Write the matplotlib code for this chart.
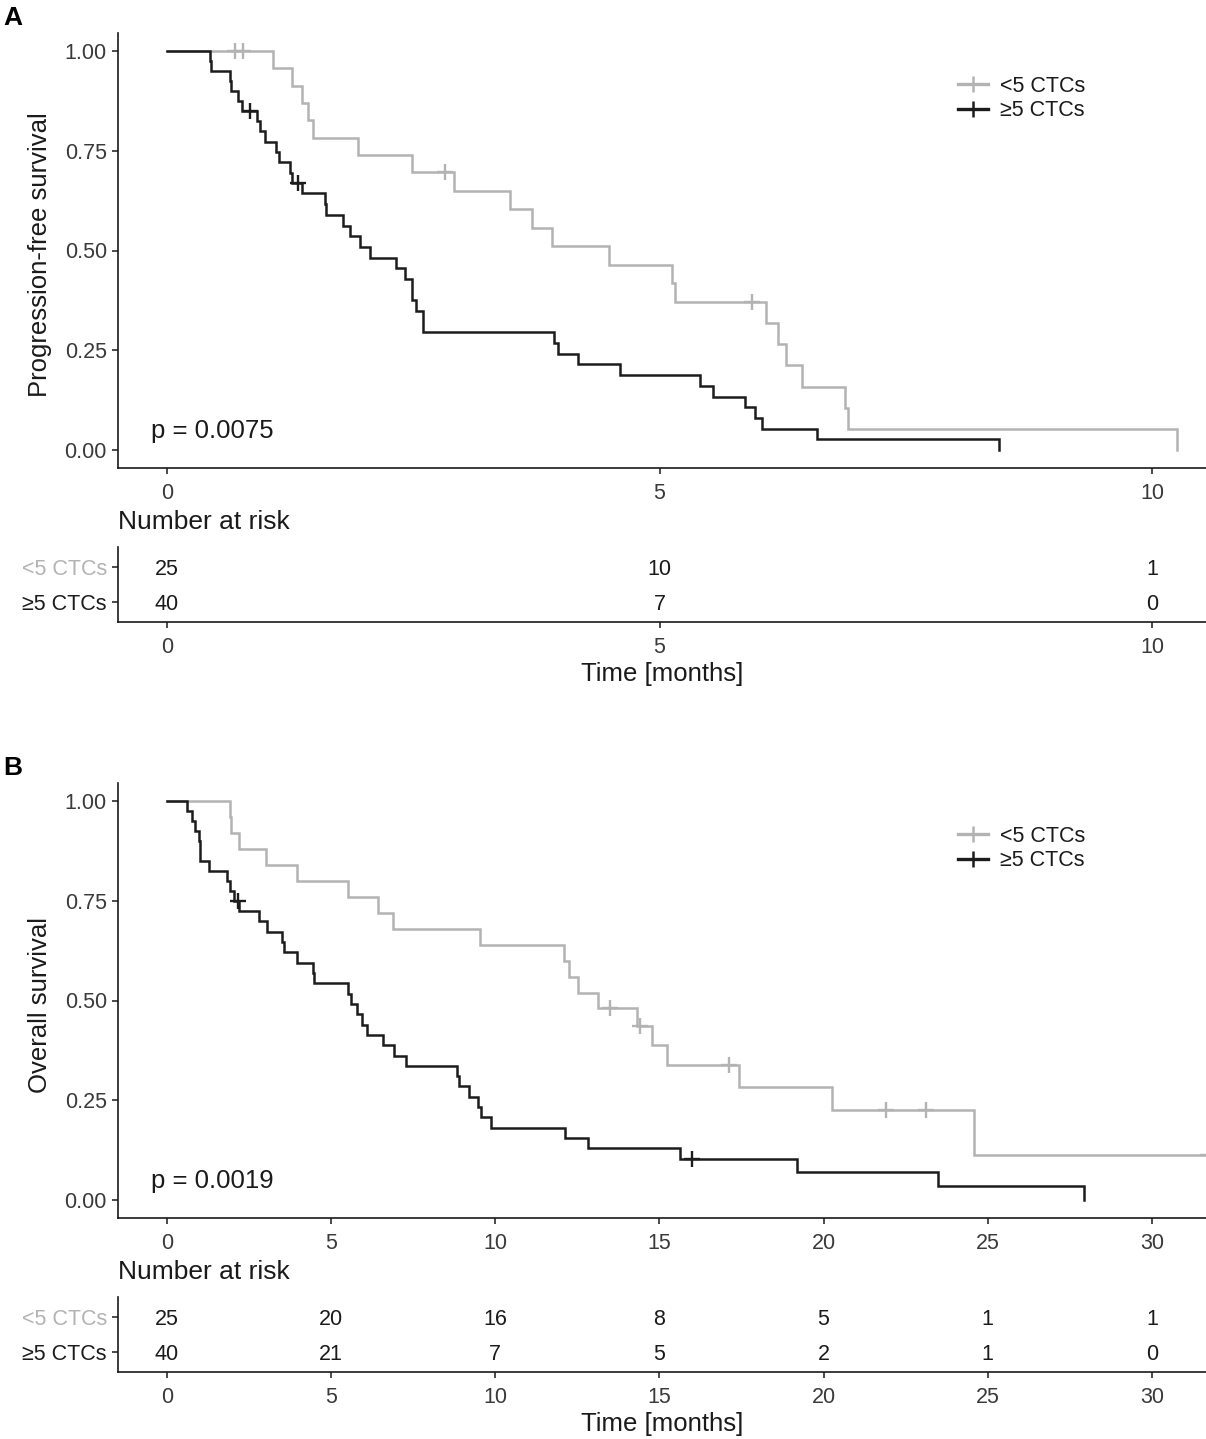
import numpy as np
import matplotlib
matplotlib.use('Agg')
import matplotlib.pyplot as plt
from matplotlib.lines import Line2D

plt.rcParams['font.family'] = ['Liberation Sans', 'DejaVu Sans']

W, H = 1206, 1439

# ---------------- data ----------------
groups = ['<5 CTCs', '\u22655 CTCs']
group_colors = ['#b3b3b3', '#1c1c1c']

# Panel A: progression-free survival (months)
pfs_low_events = [1.08, 1.27, 1.37, 1.43, 1.48, 1.94, 2.49, 2.91, 3.48, 3.71, 3.91,
                  4.49, 5.13, 5.16, 6.08, 6.20, 6.28, 6.45, 6.88, 6.91, 10.25]
pfs_low_censor = [0.69, 0.77, 2.82, 5.94]
pfs_high_events = [0.44, 0.45, 0.64, 0.65, 0.72, 0.76, 0.91, 0.94, 0.99, 1.11, 1.14,
                   1.25, 1.27, 1.37, 1.60, 1.61, 1.79, 1.86, 1.96, 2.06, 2.32, 2.42,
                   2.49, 2.49, 2.53, 2.60, 2.60, 3.93, 3.97, 4.17, 4.60, 5.41, 5.54,
                   5.87, 5.97, 6.04, 6.60, 8.45]
pfs_high_censor = [0.84, 1.33]
pfs_ticks = [0, 5, 10]
pfs_risk_low = [25, 10, 1]
pfs_risk_high = [40, 7, 0]
pfs_p = 'p = 0.0075'

# Panel B: overall survival (months)
os_low_events = [1.92, 1.94, 2.20, 3.02, 3.95, 5.52, 6.44, 6.87, 9.53, 12.09, 12.26,
                 12.53, 13.12, 14.31, 14.76, 15.22, 17.42, 20.25, 24.59]
os_low_censor = [13.49, 14.42, 17.11, 21.89, 23.12, 31.7]
os_high_events = [0.62, 0.77, 0.85, 0.98, 1.00, 1.02, 1.29, 1.82, 1.92, 2.03, 2.20,
                  2.81, 3.04, 3.49, 3.55, 3.95, 4.46, 4.48, 5.52, 5.59, 5.80, 5.95,
                  6.08, 6.59, 6.91, 7.28, 8.82, 8.90, 9.21, 9.46, 9.58, 9.86, 12.12,
                  12.81, 15.64, 19.19, 23.50, 27.94]
os_high_censor = [2.15, 15.98]
os_ticks = [0, 5, 10, 15, 20, 25, 30]
os_risk_low = [25, 20, 16, 8, 5, 1, 1]
os_risk_high = [40, 21, 7, 5, 2, 1, 0]
os_p = 'p = 0.0019'

y_ticks = [0.0, 0.25, 0.5, 0.75, 1.0]
y_ticklabels = ['0.00', '0.25', '0.50', '0.75', '1.00']


def km(events, censors):
    ev = np.array(events, float)
    ce = np.array(censors, float)
    times = np.unique(np.concatenate([ev, ce]))
    n = len(ev) + len(ce)
    s = 1.0
    xs, ys = [0.0], [1.0]
    cx, cy = [], []
    at_risk = n
    for t in times:
        d = np.sum(ev == t)
        c = np.sum(ce == t)
        if d > 0:
            s *= (at_risk - d) / at_risk
        xs.append(t)
        ys.append(s)
        for _ in range(c):
            cx.append(t)
            cy.append(s)
        at_risk -= d + c
    return np.array(xs), np.array(ys), cx, cy


def add_ax(l, t, r, b):
    return fig.add_axes([l / W, 1 - b / H, (r - l) / W, (b - t) / H])


TICK_FS = 15.5
TITLE_FS = 18.5
tick_col = '#3a3a3a'


def style(ax):
    for sp in ['top', 'right']:
        ax.spines[sp].set_visible(False)
    for sp in ['left', 'bottom']:
        ax.spines[sp].set_linewidth(1.2)
        ax.spines[sp].set_color('#1a1a1a')
    ax.tick_params(axis='both', direction='out', length=4.5, width=1.1,
                   colors='#1a1a1a', labelsize=TICK_FS, labelcolor=tick_col)
    ax.tick_params(axis='y', pad=3.5)
    ax.tick_params(axis='x', pad=6.5)


fig = plt.figure(figsize=(W / 100, H / 100), dpi=100)


def panel(top, data, ticks, risk_low, risk_high, ptext, ylabel, xlim, letter):
    (le, lc, he, hc) = data
    ax = add_ax(118, top, 1206, top + 435)
    style(ax)
    curves = [km(le, lc), km(he, hc)]
    for (xs, ys, cx, cy), col in zip(curves, group_colors):
        ax.step(xs, ys, where='post', color=col, lw=1.8, solid_joinstyle='miter')
        ax.plot(cx, cy, ls='none', marker='+', ms=11, mew=1.7, color=col)
    ax.set_xlim(*xlim)
    ax.set_ylim(-0.0451, 1.0451)
    ax.set_xticks(ticks)
    ax.set_xticklabels([str(t) for t in ticks])
    ax.set_yticks(y_ticks)
    ax.set_yticklabels(y_ticklabels)
    ax.text((151 - 118) / 1088, (435 - 398) / 435,
            ptext, transform=ax.transAxes, ha='left', va='center',
            fontsize=18.5, color='#1a1a1a')
    handles = [Line2D([0], [0], color=c, lw=2.4, marker='+', ms=11, mew=1.8)
               for c in group_colors]
    leg = ax.legend(handles, groups, loc='upper left',
                    bbox_to_anchor=(958 / W, 1 - (top + 43) / H),
                    bbox_transform=fig.transFigure, frameon=False,
                    fontsize=TICK_FS, handlelength=1.4, handletextpad=0.55,
                    labelspacing=0.15, borderpad=0, borderaxespad=0)
    for txt in leg.get_texts():
        txt.set_color('#1a1a1a')
    fig.text(40 / W, 1 - (top + 222) / H, ylabel, rotation=90, ha='center',
             va='center', fontsize=TITLE_FS, color='#1a1a1a')
    fig.text(118 / W, 1 - (top + 489) / H, 'Number at risk', ha='left',
             va='center', fontsize=TITLE_FS + 0.5, color='#1a1a1a')

    # risk table
    tb = add_ax(118, top + 514, 1206, top + 589)
    style(tb)
    tb.set_xlim(*xlim)
    tb.set_ylim(-0.571, 1.571)
    tb.set_xticks(ticks)
    tb.set_xticklabels([str(t) for t in ticks])
    tb.set_yticks([1, 0])
    tb.set_yticklabels(groups)
    for lab, col in zip(tb.get_yticklabels(), group_colors):
        lab.set_color(col)
    for t, a, b in zip(ticks, risk_low, risk_high):
        tb.text(t, 1, str(a), ha='center', va='center_baseline', fontsize=TICK_FS,
                color='#1a1a1a')
        tb.text(t, 0, str(b), ha='center', va='center_baseline', fontsize=TICK_FS,
                color='#1a1a1a')
    fig.text(662 / W, 1 - (top + 641) / H, 'Time [months]', ha='center',
             va='center', fontsize=TITLE_FS, color='#1a1a1a')
    fig.text(3 / W, 1 - (top - 15) / H, letter, ha='left', va='center',
             fontsize=19, fontweight='bold', color='#000000')


panel(33, (pfs_low_events, pfs_low_censor, pfs_high_events, pfs_high_censor),
      pfs_ticks, pfs_risk_low, pfs_risk_high, pfs_p, 'Progression-free survival',
      (-0.4975, 10.548), 'A')
panel(783, (os_low_events, os_low_censor, os_high_events, os_high_censor),
      os_ticks, os_risk_low, os_risk_high, os_p, 'Overall survival',
      (-1.4925, 31.65), 'B')

fig.savefig('out.png', dpi=100)
